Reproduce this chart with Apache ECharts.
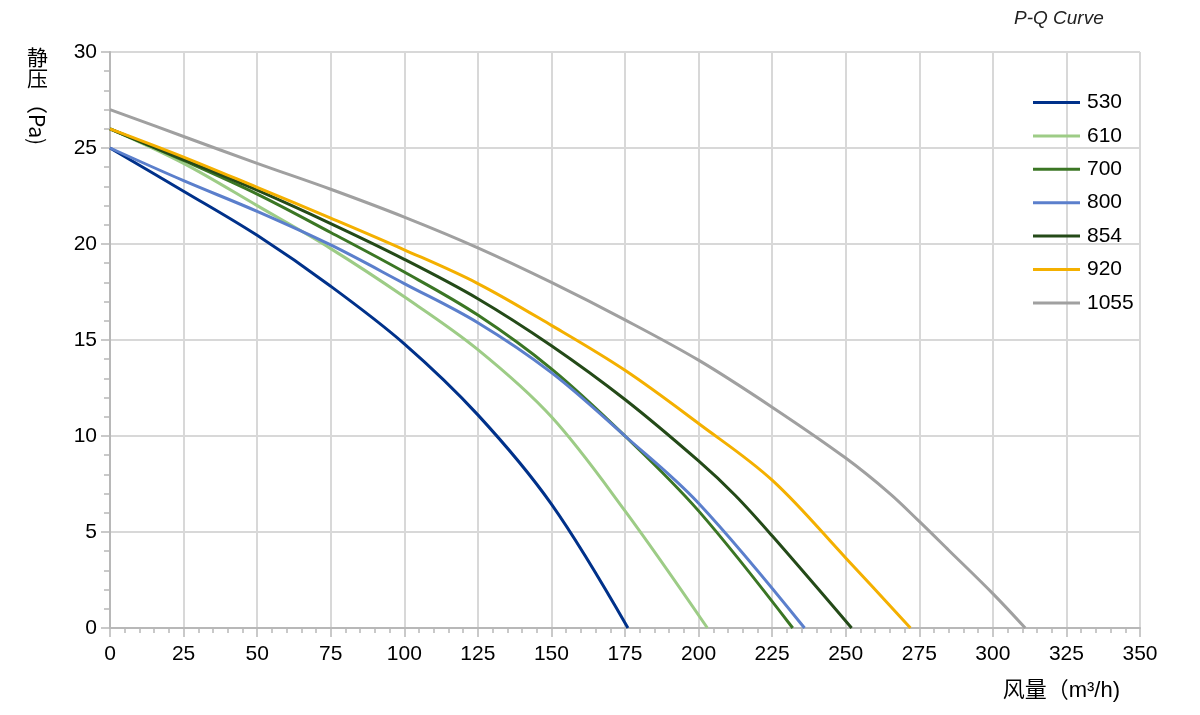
<!DOCTYPE html>
<html>
<head>
<meta charset="utf-8">
<script src="https://cdn.jsdelivr.net/npm/echarts@6/dist/echarts.min.js"></script>
<style>
html,body{margin:0;padding:0;background:#fff;}
#chart{width:1200px;height:715px;}
</style>
</head>
<body>
<div id="chart"></div>
<script>
const seriesNames = ['530', '610', '700', '800', '854', '920', '1055'];
const seriesColors = ['#00318a', '#9dcc86', '#3b7624', '#5b7fcc', '#244a18', '#f4b000', '#a0a0a0'];

const q530 = [0, 25, 50, 75, 100, 125, 150, 176];
const p530 = [25, 22.75, 20.45, 17.8, 14.8, 11.1, 6.45, 0];

const q610 = [0, 25, 50, 75, 100, 125, 150, 175, 203];
const p610 = [26, 24.2, 22.0, 19.76, 17.25, 14.5, 11.0, 6.1, 0];

const q700 = [0, 25, 50, 75, 100, 125, 150, 175, 200, 232];
const p700 = [26, 24.35, 22.6, 20.6, 18.54, 16.3, 13.5, 10.0, 6.1, 0];

const q800 = [0, 25, 50, 75, 100, 125, 150, 175, 200, 236];
const p800 = [25, 23.3, 21.7, 19.95, 17.94, 15.9, 13.3, 10.0, 6.5, 0];

const q854 = [0, 25, 50, 75, 100, 125, 150, 175, 200, 212.5, 225, 252];
const p854 = [26, 24.4, 22.8, 21.06, 19.2, 17.15, 14.7, 11.9, 8.7, 6.9, 4.8, 0];

const q920 = [0, 25, 50, 75, 100, 125, 150, 175, 200, 225, 250, 272];
const p920 = [26, 24.53, 22.95, 21.35, 19.7, 17.94, 15.76, 13.42, 10.65, 7.7, 3.65, 0];

const q1055 = [0, 25, 50, 75, 100, 125, 150, 175, 200, 225, 250, 265, 275, 285, 300, 311];
const p1055 = [27, 25.6, 24.2, 22.85, 21.4, 19.8, 18.0, 16.05, 13.95, 11.5, 8.85, 7.0, 5.55, 4.05, 1.79, 0];

const xTicks = [0, 25, 50, 75, 100, 125, 150, 175, 200, 225, 250, 275, 300, 325, 350];
const yTicks = [0, 5, 10, 15, 20, 25, 30];

const qs = [q530, q610, q700, q800, q854, q920, q1055];
const ps = [p530, p610, p700, p800, p854, p920, p1055];

const FONT = '"Liberation Sans", Arial, "Noto Sans CJK SC", sans-serif';
const AXIS_GRAY = '#b8b8b8';
const GRID_GRAY = '#d8d8d8';

const chart = echarts.init(document.getElementById('chart'), null, {renderer: 'canvas'});

const series = seriesNames.map((name, i) => ({
  name: name,
  type: 'line',
  data: qs[i].map((q, j) => [q, ps[i][j]]),
  smooth: 0.35,
  showSymbol: false,
  symbol: 'none',
  lineStyle: {color: seriesColors[i], width: 3},
  itemStyle: {color: seriesColors[i]},
  z: 3 + i
}));

chart.setOption({
  animation: false,
  backgroundColor: '#ffffff',
  textStyle: {fontFamily: FONT},
  grid: {left: 110, right: 60, top: 52, bottom: 87, containLabel: false},
  xAxis: {
    type: 'value',
    min: xTicks[0],
    max: xTicks[xTicks.length - 1],
    interval: 25,
    axisLine: {show: true, onZero: false, lineStyle: {color: AXIS_GRAY, width: 2}},
    axisTick: {show: true, inside: false, length: 9, lineStyle: {color: AXIS_GRAY, width: 1.5}},
    minorTick: {show: true, splitNumber: 5, length: 5, lineStyle: {color: AXIS_GRAY, width: 1.5}},
    splitLine: {show: true, lineStyle: {color: GRID_GRAY, width: 2}},
    axisLabel: {color: '#000', fontSize: 21, margin: 16, fontFamily: FONT},
    name: '风量（m³/h)',
    nameLocation: 'end',
    nameGap: 0,
    nameTextStyle: {color: '#000', fontSize: 22, fontFamily: FONT, align: 'right', verticalAlign: 'top', padding: [52, 20, 0, 0]}
  },
  yAxis: {
    type: 'value',
    min: yTicks[0],
    max: yTicks[yTicks.length - 1],
    interval: 5,
    axisLine: {show: true, onZero: false, lineStyle: {color: AXIS_GRAY, width: 2}},
    axisTick: {show: true, inside: false, length: 9, lineStyle: {color: AXIS_GRAY, width: 1.5}},
    minorTick: {show: true, splitNumber: 5, length: 6, lineStyle: {color: AXIS_GRAY, width: 1.5}},
    splitLine: {show: true, lineStyle: {color: GRID_GRAY, width: 2}},
    axisLabel: {color: '#000', fontSize: 21, margin: 13, fontFamily: FONT}
  },
  legend: {
    show: true,
    orient: 'vertical',
    left: 1028,
    top: 87,
    itemWidth: 47,
    itemHeight: 14,
    itemGap: 12.4,
    data: seriesNames.map((n, i) => ({name: n, icon: 'path://M0,0 L47,0 L47,3 L0,3 Z', itemStyle: {color: seriesColors[i]}})),
    textStyle: {color: '#000', fontSize: 21, fontFamily: FONT, padding: [0, 0, 0, 2]}
  },
  graphic: [
    {type: 'text', left: 1014, top: 9, style: {text: 'P-Q Curve', fill: '#222', font: 'italic 19px ' + FONT}},
    {type: 'text', x: 27, y: 47, style: {text: '静', fill: '#000', font: '21px "Noto Sans CJK SC", sans-serif'}},
    {type: 'text', x: 27, y: 68, style: {text: '压', fill: '#000', font: '21px "Noto Sans CJK SC", sans-serif'}},
    {type: 'text', x: 47, y: 93, rotation: -Math.PI / 2, style: {text: '（Pa)', fill: '#000', font: '21px "Noto Sans CJK SC", "Liberation Sans", sans-serif'}}
  ],
  series: series
});
</script>
</body>
</html>
